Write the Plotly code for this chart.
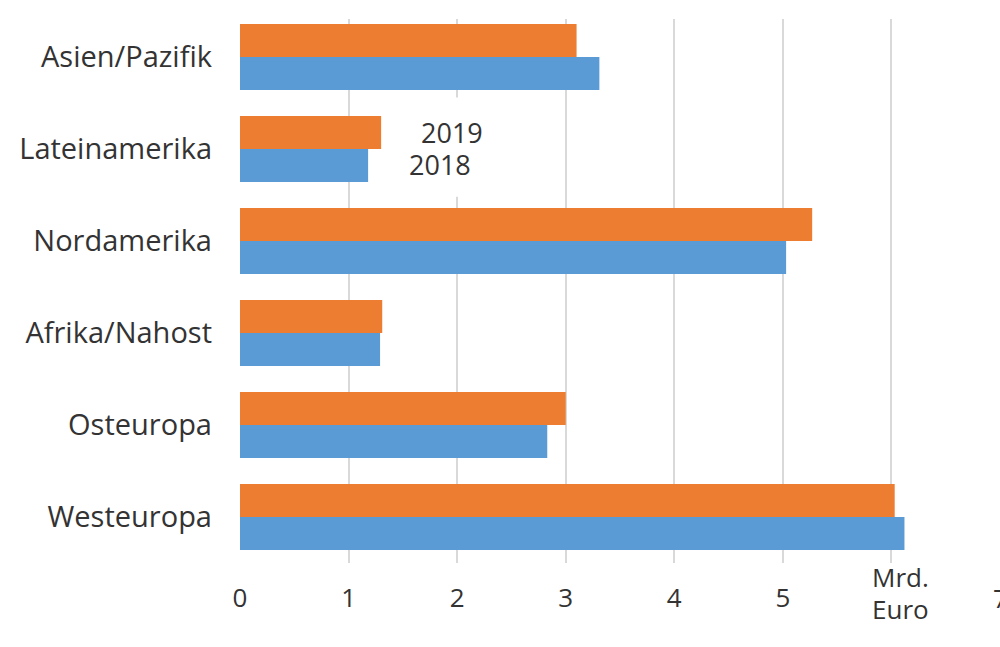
import plotly.graph_objects as go

categories = ["Westeuropa", "Osteuropa", "Afrika/Nahost", "Nordamerika", "Lateinamerika", "Asien/Pazifik"]
values_2018 = [6.12, 2.83, 1.29, 5.03, 1.18, 3.31]
values_2019 = [6.03, 3.00, 1.31, 5.27, 1.30, 3.10]
tick_vals = [0, 1, 2, 3, 4, 5, 6, 7]
tick_text = ["0", "1", "2", "3", "4", "5", "", ""]
edge_tick_val = 7
edge_tick_text = "7"
unit_line1 = "Mrd."
unit_line2 = "Euro"

FONT = "Open Sans"
TXT = "#333333"

fig = go.Figure()
fig.add_trace(go.Bar(y=categories, x=values_2018, orientation="h", name="2018",
                     marker=dict(color="#5B9BD5", line=dict(width=0))))
fig.add_trace(go.Bar(y=categories, x=values_2019, orientation="h", name="2019",
                     marker=dict(color="#ED7D31", line=dict(width=0))))

fig.update_layout(
    width=1000, height=647,
    margin=dict(l=240, r=0, t=19, b=84),
    paper_bgcolor="white", plot_bgcolor="white",
    barmode="group", bargap=0.28, bargroupgap=0,
    showlegend=False,
    font=dict(family=FONT, color=TXT),
)
fig.update_xaxes(range=[0, 7.0], tickvals=tick_vals, ticktext=tick_text,
                 showgrid=True, gridcolor="#D9D9D9", gridwidth=1.5,
                 zeroline=False, showline=False, ticks="", automargin=False,
                 tickfont=dict(size=26, color=TXT, family=FONT),
                 ticklabelstandoff=17)
fig.update_yaxes(range=[-0.5, 5.413], showgrid=False, zeroline=False, showline=False,
                 ticks="", automargin=False,
                 tickfont=dict(size=29, color=TXT, family=FONT),
                 ticklabelstandoff=27)

# white box behind the in-chart series labels (hides the gridline there)
fig.add_shape(type="rect", xref="x", yref="y", x0=1.5, x1=2.3, y0=3.48, y1=4.56,
              fillcolor="white", line=dict(width=0), layer="above")

fig.add_annotation(x=5.8, xref="x", y=-0.0257, yref="paper", text=unit_line1,
                   showarrow=False, xanchor="left", yanchor="middle",
                   font=dict(size=26, color=TXT, family=FONT))
fig.add_annotation(x=5.8, xref="x", y=-0.0846, yref="paper", text=unit_line2,
                   showarrow=False, xanchor="left", yanchor="middle",
                   font=dict(size=26, color=TXT, family=FONT))
fig.add_annotation(x=edge_tick_val, xref="x", y=-0.0643, yref="paper", text=edge_tick_text,
                   showarrow=False, xanchor="center", yanchor="middle",
                   font=dict(size=26, color=TXT, family=FONT))
fig.add_annotation(x=1.84, xref="x", y=3.83, yref="y", text="2018",
                   showarrow=False, xanchor="center", yanchor="middle",
                   font=dict(size=27, color=TXT, family=FONT))
fig.add_annotation(x=1.95, xref="x", y=4.18, yref="y", text="2019",
                   showarrow=False, xanchor="center", yanchor="middle",
                   font=dict(size=27, color=TXT, family=FONT))

fig.write_html("out.html", config={"displayModeBar": False},
               post_script="document.body.style.margin='0';")
